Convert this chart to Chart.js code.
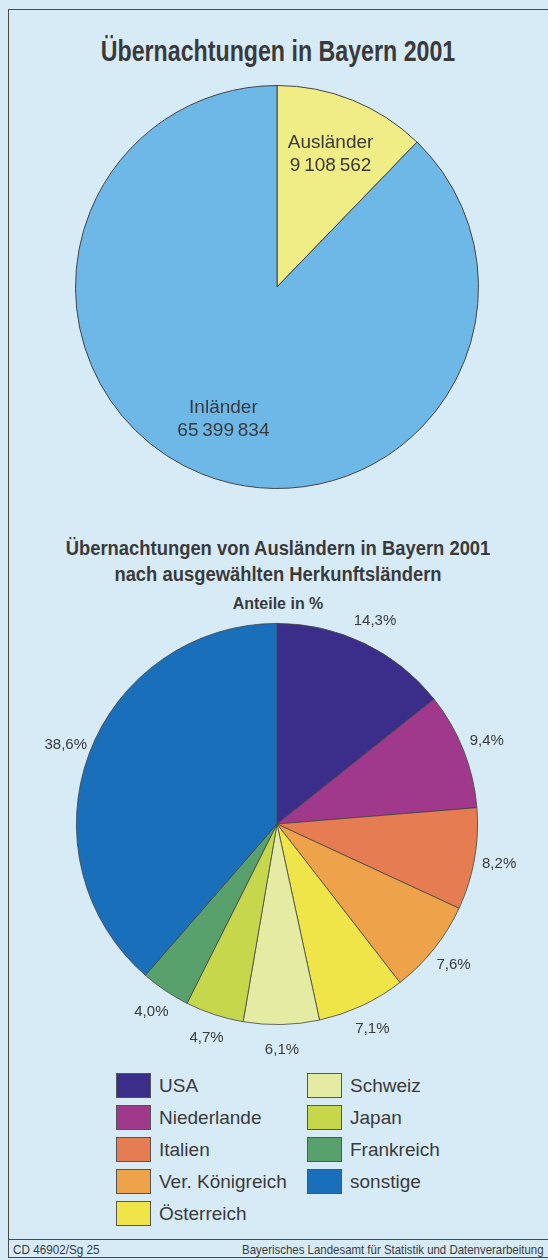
<!DOCTYPE html>
<html>
<head>
<meta charset="utf-8">
<script src="https://cdn.jsdelivr.net/npm/chart.js@4.4.1/dist/chart.umd.min.js"></script>
<style>
  html, body { margin: 0; padding: 0; }
  body {
    width: 548px; height: 1260px; overflow: hidden; position: relative;
    background: #d7ebf6;
    font-family: "Liberation Sans", Arial, sans-serif; color: #3a3a3a;
  }
  .frame {
    position: absolute; left: 8px; top: 9px; width: 560px; height: 1249px;
    border: 1px solid #4a4a4a; box-sizing: border-box;
  }
  .footline { position: absolute; left: 8px; top: 1239px; width: 548px; border-top: 1px solid #4a4a4a; }
  .t { position: absolute; left: 8px; width: 540px; text-align: center; font-weight: bold;
       transform-origin: 270px 50%; white-space: nowrap; }
  .foot { position: absolute; top: 1242px; font-size: 13px; white-space: nowrap; }
  canvas { position: absolute; }
  .legend { position: absolute; left: 0; top: 0; }
  .lg { position: absolute; display: flex; align-items: center; font-size: 19px; white-space: nowrap; }
  .lg span.box { width: 35px; height: 25px; border: 1px solid #555; margin-right: 8px; box-sizing: border-box; }
</style>
</head>
<body>
<div class="frame"></div>

<div class="t" style="top:35px; font-size:29px; transform:scaleX(0.8);">Übernachtungen in Bayern 2001</div>
<div class="t" style="top:535px; font-size:20px; line-height:26px; transform:scaleX(0.92);">Übernachtungen von Ausländern in Bayern 2001<br>nach ausgewählten Herkunftsländern</div>
<div class="t" style="top:595px; font-size:16px;">Anteile in %</div>

<canvas id="pieTotal"></canvas>
<canvas id="pieForeign"></canvas>
<div class="legend" id="legend"></div>

<div class="footline"></div>
<div class="foot" style="left:13px; transform:scaleX(0.9); transform-origin:left center;">CD 46902/Sg 25</div>
<div class="foot" style="right:4px; transform:scaleX(0.88); transform-origin:right center;">Bayerisches Landesamt für Statistik und Datenverarbeitung</div>

<script>
// ---- data ----
const totalLabels = ["Ausländer", "Inländer"];
const totalValues = [9108562, 65399834];
const totalColors = ["#f1ed86", "#6db8e6"];

const countryLabels = ["USA", "Niederlande", "Italien", "Ver. Königreich", "Österreich",
                       "Schweiz", "Japan", "Frankreich", "sonstige"];
const countryShares = [14.3, 9.4, 8.2, 7.6, 7.1, 6.1, 4.7, 4.0, 38.6];
const countryColors = ["#3b2e8a", "#a0398c", "#e67c52", "#eea24a", "#efe448",
                       "#e3eca2", "#c7d74c", "#58a06c", "#1a6fba"];

const FONT = '"Liberation Sans", Arial, sans-serif';
const TEXT = "#3a3a3a";

// thousands with a thin gap: 9 108 562
const fmtNum = (n) => String(n).replace(/\B(?=(\d{3})+(?!\d))/g, "\u2009");
const fmtPct = (v) => v.toFixed(1).replace(".", ",") + "%";

function place(canvas, left, top, w, h) {
  canvas.style.left = left + "px";
  canvas.style.top = top + "px";
  canvas.width = w; canvas.height = h;
  canvas.style.width = w + "px"; canvas.style.height = h + "px";
}

// labels inside the slices (name + number)
const innerLabels = {
  id: "innerLabels",
  afterDatasetsDraw(chart) {
    const ctx = chart.ctx;
    const meta = chart.getDatasetMeta(0);
    ctx.save();
    ctx.fillStyle = TEXT;
    ctx.font = "19px " + FONT;
    ctx.textAlign = "center";
    ctx.textBaseline = "middle";
    meta.data.forEach((arc, i) => {
      const { x, y, startAngle, endAngle, outerRadius } = arc.getProps(
        ["x", "y", "startAngle", "endAngle", "outerRadius"], true);
      const mid = (startAngle + endAngle) / 2;
      const r = outerRadius * 0.71;
      const px = x + Math.cos(mid) * r;
      const py = y + Math.sin(mid) * r;
      ctx.fillText(totalLabels[i], px, py - 11.5);
      ctx.fillText(fmtNum(totalValues[i]), px, py + 11.5);
    });
    ctx.restore();
  },
};

// percentages outside the slices
const outerLabels = {
  id: "outerLabels",
  afterDatasetsDraw(chart) {
    const ctx = chart.ctx;
    const meta = chart.getDatasetMeta(0);
    ctx.save();
    ctx.fillStyle = TEXT;
    ctx.font = "15px " + FONT;
    ctx.textAlign = "center";
    ctx.textBaseline = "middle";
    meta.data.forEach((arc, i) => {
      const { x, y, startAngle, endAngle, outerRadius } = arc.getProps(
        ["x", "y", "startAngle", "endAngle", "outerRadius"], true);
      const mid = (startAngle + endAngle) / 2;
      const r = outerRadius + 25;
      ctx.fillText(fmtPct(countryShares[i]), x + Math.cos(mid) * r, y + Math.sin(mid) * r);
    });
    ctx.restore();
  },
};

const baseOptions = {
  responsive: false,
  animation: false,
  rotation: 0,
  plugins: { legend: { display: false }, tooltip: { enabled: false } },
};

// ---- chart 1: total overnight stays ----
const c1 = document.getElementById("pieTotal");
place(c1, 0, 70, 548, 440);
new Chart(c1, {
  type: "pie",
  data: {
    labels: totalLabels,
    datasets: [{ data: totalValues, backgroundColor: totalColors, borderColor: "#444", borderWidth: 1 }],
  },
  options: { ...baseOptions, layout: { padding: { left: 75, right: 69, top: 15, bottom: 21 } } },
  plugins: [innerLabels],
});

// ---- chart 2: foreign guests by country ----
const c2 = document.getElementById("pieForeign");
place(c2, 0, 600, 548, 460);
new Chart(c2, {
  type: "pie",
  data: {
    labels: countryLabels,
    datasets: [{ data: countryShares, backgroundColor: countryColors, borderColor: "#444", borderWidth: 0.8 }],
  },
  options: { ...baseOptions, layout: { padding: { left: 76, right: 70, top: 23, bottom: 35 } } },
  plugins: [outerLabels],
});

// ---- legend, two columns ----
const legend = document.getElementById("legend");
countryLabels.forEach((name, i) => {
  const col = i < 5 ? 0 : 1;
  const row = i < 5 ? i : i - 5;
  const el = document.createElement("div");
  el.className = "lg";
  el.style.left = (col === 0 ? 116 : 307) + "px";
  el.style.top = (1073 + row * 32) + "px";
  el.innerHTML = `<span class="box" style="background:${countryColors[i]}"></span><span>${name}</span>`;
  legend.appendChild(el);
});
</script>
</body>
</html>
